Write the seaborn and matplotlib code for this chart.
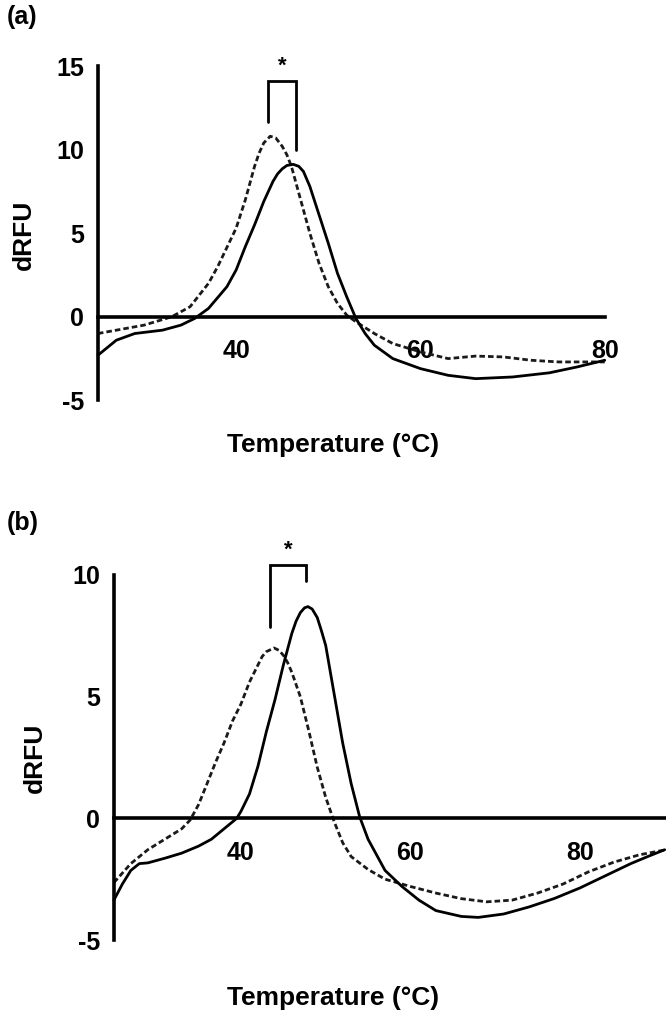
#!/usr/bin/env python3
"""Thermal shift melt curves (dRFU vs temperature), two stacked panels."""
import matplotlib
matplotlib.use("Agg")
import matplotlib.pyplot as plt
import pandas as pd
import seaborn as sns

# ---- panel (a) ----
A_T_DASH = [25, 30, 33, 35, 37, 38, 40, 41, 42, 42.5, 43, 43.7, 44.3, 45, 45.5,
            46, 47, 48, 49, 50, 51, 52, 53, 55, 57, 60, 63, 66, 69, 72, 75, 78, 80]
A_Y_DASH = [-1.0, -0.5, 0.0, 0.6, 2.0, 3.0, 5.3, 7.0, 9.0, 9.8, 10.4, 10.8, 10.7,
            10.2, 9.7, 9.0, 7.0, 5.0, 3.2, 1.8, 0.8, 0.1, -0.3, -1.0, -1.6, -2.1,
            -2.5, -2.35, -2.4, -2.6, -2.7, -2.7, -2.7]
A_T_SOLID = [25, 27, 29, 32, 34, 35.5, 37, 39, 40, 41, 42, 43, 44, 44.5, 45, 45.5,
             46.2, 46.8, 47.3, 48, 49, 50, 51, 52, 53, 54, 55, 57, 60, 63, 66, 70,
             74, 77, 80]
A_Y_SOLID = [-2.3, -1.4, -1.0, -0.8, -0.5, -0.1, 0.5, 1.8, 2.8, 4.2, 5.5, 6.9,
             8.1, 8.55, 8.85, 9.05, 9.12, 9.0, 8.7, 7.8, 6.1, 4.4, 2.6, 1.2, -0.1,
             -1.0, -1.7, -2.5, -3.1, -3.5, -3.7, -3.6, -3.35, -3.0, -2.6]
A_BRACKET_X = [43.5, 46.5]
A_BRACKET_Y = [11.65, 14.1, 10.0]   # left leg bottom, bar, right leg bottom

# ---- panel (b) ----
B_T_DASH = [25, 27, 29, 31, 33, 34, 35, 36, 37, 38, 39, 40, 41, 42, 42.5, 43,
            43.9, 44.5, 45, 45.5, 46, 47, 48, 49, 50, 51, 52, 53, 55, 57, 60, 63,
            66, 69, 72, 75, 78, 81, 84, 87, 90]
B_Y_DASH = [-2.64, -1.86, -1.29, -0.86, -0.43, -0.07, 0.57, 1.43, 2.3, 3.1, 4.0,
            4.7, 5.6, 6.3, 6.65, 6.85, 7.0, 6.9, 6.7, 6.4, 6.0, 5.0, 3.6, 2.1,
            0.86, -0.14, -1.0, -1.57, -2.1, -2.5, -2.8, -3.07, -3.3, -3.43, -3.36,
            -3.07, -2.7, -2.2, -1.8, -1.5, -1.3]
B_T_SOLID = [25, 26, 27, 28, 29, 31, 33, 35, 36.5, 38, 39.5, 40, 41, 42, 43, 44,
             45, 46, 46.5, 47, 47.5, 47.9, 48.4, 49, 49.5, 50, 51, 52, 53, 54, 55,
             57, 59, 61, 63, 66, 68, 71, 74, 77, 80, 83, 86, 88, 90]
B_Y_SOLID = [-3.36, -2.7, -2.14, -1.86, -1.83, -1.64, -1.43, -1.14, -0.86, -0.43,
             0.0, 0.29, 1.0, 2.14, 3.57, 4.86, 6.3, 7.6, 8.1, 8.45, 8.65, 8.7, 8.6,
             8.25, 7.7, 7.1, 5.1, 3.1, 1.43, 0.07, -0.86, -2.14, -2.8, -3.36,
             -3.79, -4.03, -4.07, -3.93, -3.64, -3.29, -2.86, -2.36, -1.86, -1.57,
             -1.29]
B_BRACKET_X = [43.4, 47.7]
B_BRACKET_Y = [7.86, 10.4, 9.75]

FONT = ["Liberation Sans", "DejaVu Sans"]
SPINE_W = 2.6
LINE_W = 2.0


def style_axis(ax, xlim, ylim, xticks, yticks):
    ax.set_xlim(*xlim)
    ax.set_ylim(*ylim)
    ax.set_xticks(xticks)
    ax.set_yticks(yticks)
    ax.spines["top"].set_visible(False)
    ax.spines["right"].set_visible(False)
    ax.spines["bottom"].set_position(("data", 0))
    for s in ("left", "bottom"):
        ax.spines[s].set_linewidth(SPINE_W)
        ax.spines[s].set_color("black")
    ax.tick_params(direction="out", length=9, width=SPINE_W, color="black",
                   labelcolor="black", labelsize=18)
    ax.tick_params(axis="y", pad=1)
    ax.tick_params(axis="x", pad=7)
    for lab in ax.get_xticklabels() + ax.get_yticklabels():
        lab.set_fontweight("bold")
    ax.set_xlabel("")
    ax.set_ylabel("")
    ax.grid(False)


def draw_panel(ax, td, yd, ts, ys, bx, by):
    dash = pd.DataFrame({"t": td, "y": yd})
    solid = pd.DataFrame({"t": ts, "y": ys})
    sns.lineplot(data=dash, x="t", y="y", ax=ax, color="#1a1a1a", lw=LINE_W,
                 sort=False, clip_on=False)
    ax.lines[-1].set_dashes((2.0, 1.1))
    sns.lineplot(data=solid, x="t", y="y", ax=ax, color="black", lw=LINE_W,
                 sort=False, clip_on=False)
    ax.plot([bx[0], bx[0], bx[1], bx[1]], [by[0], by[1], by[1], by[2]],
            color="black", lw=LINE_W, clip_on=False, solid_joinstyle="miter")


sns.set_theme(style="white", rc={"text.color": "black",
                                 "axes.labelcolor": "black",
                                 "xtick.color": "black",
                                 "ytick.color": "black",
                                 "axes.unicode_minus": False})
plt.rcParams["font.family"] = FONT
plt.rcParams["font.weight"] = "bold"

fig = plt.figure(figsize=(6.66, 10.24), dpi=100)

ax_a = fig.add_axes([0.147, 0.609, 0.761, 0.3265])
draw_panel(ax_a, A_T_DASH, A_Y_DASH, A_T_SOLID, A_Y_SOLID, A_BRACKET_X, A_BRACKET_Y)
style_axis(ax_a, (25, 80), (-5, 15), [40, 60, 80], [-5, 0, 5, 10, 15])
ax_a.text(sum(A_BRACKET_X) / 2, A_BRACKET_Y[1] + 0.25, "*", ha="center",
          va="bottom", fontsize=16, fontweight="bold")

ax_b = fig.add_axes([0.171, 0.082, 0.827, 0.3565])
draw_panel(ax_b, B_T_DASH, B_Y_DASH, B_T_SOLID, B_Y_SOLID, B_BRACKET_X, B_BRACKET_Y)
style_axis(ax_b, (25, 90), (-5, 10), [40, 60, 80], [-5, 0, 5, 10])
ax_b.text(sum(B_BRACKET_X) / 2, B_BRACKET_Y[1] + 0.2, "*", ha="center",
          va="bottom", fontsize=16, fontweight="bold")

for y, lab in [(0.983, "(a)"), (0.489, "(b)")]:
    fig.text(0.01, y, lab, ha="left", va="center", fontsize=18,
             fontweight="bold")
fig.text(0.5, 1 - 445 / 1024, "Temperature (°C)", ha="center", va="center",
         fontsize=19, fontweight="bold")
fig.text(0.5, 1 - 998 / 1024, "Temperature (°C)", ha="center", va="center",
         fontsize=19, fontweight="bold")
fig.text(24 / 666, 1 - 235 / 1024, "dRFU", rotation=90, ha="center",
         va="center", fontsize=19, fontweight="bold")
fig.text(35 / 666, 1 - 758 / 1024, "dRFU", rotation=90, ha="center",
         va="center", fontsize=19, fontweight="bold")

fig.savefig("out.png", dpi=100, facecolor="white")
